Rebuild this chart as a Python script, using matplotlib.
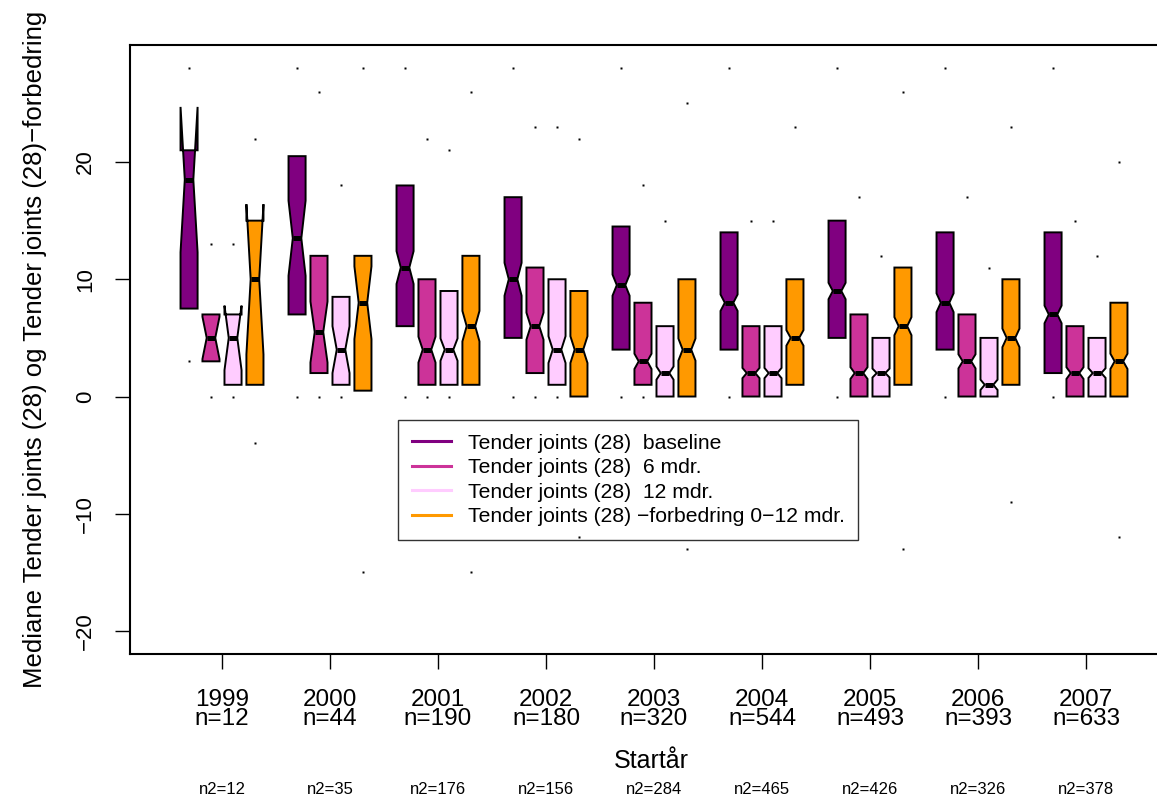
import matplotlib
matplotlib.use("Agg")
import matplotlib.pyplot as plt
from matplotlib.lines import Line2D
from matplotlib.transforms import blended_transform_factory

plt.rcParams['font.family'] = ['Liberation Sans', 'DejaVu Sans']

years = [1999, 2000, 2001, 2002, 2003, 2004, 2005, 2006, 2007]
n_vals = [12, 44, 190, 180, 320, 544, 493, 393, 633]
n2_vals = [12, 35, 176, 156, 284, 465, 426, 326, 378]

series_labels = ["Tender joints (28)  baseline",
                 "Tender joints (28)  6 mdr.",
                 "Tender joints (28)  12 mdr.",
                 "Tender joints (28) \u2212forbedring 0\u221212 mdr."]
series_colors = ["#800080", "#CC3399", "#FFCCFF", "#FF9900"]

# baseline
base_q1 = [7.5, 7, 6, 5, 4, 4, 5, 4, 2]
base_med = [18.5, 13.5, 11, 10, 9.5, 8, 9, 8, 7]
base_q3 = [21, 20.5, 18, 17, 14.5, 14, 15, 14, 14]
base_cilo = [12.3, 10.3, 9.6, 8.6, 8.6, 7.3, 8.3, 7.2, 6.25]
base_cihi = [24.7, 16.7, 12.4, 11.4, 10.4, 8.7, 9.7, 8.8, 7.75]
base_dots = [[28, 3], [28, 0], [28, 0], [28, 0], [28, 0], [28, 0], [28, 0], [28, 0], [28, 0]]

# 6 mdr
m6_q1 = [3, 2, 1, 2, 1, 0, 0, 0, 0]
m6_med = [5, 5.5, 4, 6, 3, 2, 2, 3, 2]
m6_q3 = [7, 12, 10, 11, 8, 6, 7, 7, 6]
m6_cilo = [3.2, 2.9, 2.9, 4.85, 2.35, 1.56, 1.5, 2.4, 1.5]
m6_cihi = [6.8, 8.1, 5.1, 7.15, 3.65, 2.44, 2.5, 3.6, 2.5]
m6_dots = [[13, 0], [26, 0], [22, 0], [23, 0], [18, 0], [15], [17], [17], [15]]

# 12 mdr
m12_q1 = [1, 1, 1, 1, 0, 0, 0, 0, 0]
m12_med = [5, 4, 4, 4, 2, 2, 2, 1, 2]
m12_q3 = [7, 8.5, 9, 10, 6, 6, 5, 5, 5]
m12_cilo = [2.25, 2.0, 3.05, 2.86, 1.44, 1.56, 1.62, 0.56, 1.59]
m12_cihi = [7.75, 6.0, 4.95, 5.14, 2.56, 2.44, 2.38, 1.44, 2.41]
m12_dots = [[13, 0], [18, 0], [21, 0], [23, 0], [15], [15], [12], [11], [12]]

# forbedring 0-12 mdr
fb_q1 = [1, 0.5, 1, 0, 0, 1, 1, 1, 0]
fb_med = [10, 8, 6, 4, 4, 5, 6, 5, 3]
fb_q3 = [15, 12, 12, 9, 10, 10, 11, 10, 8]
fb_cilo = [3.6, 4.9, 4.7, 2.86, 3.06, 4.34, 5.23, 4.21, 2.35]
fb_cihi = [16.4, 11.1, 7.3, 5.14, 4.94, 5.66, 6.77, 5.79, 3.65]
fb_dots = [[22, -4], [28, -15], [26, -15], [22, -12], [25, -13], [23], [26, -13], [23, -9], [20, -12]]

series = [
    (base_q1, base_med, base_q3, base_cilo, base_cihi, base_dots),
    (m6_q1, m6_med, m6_q3, m6_cilo, m6_cihi, m6_dots),
    (m12_q1, m12_med, m12_q3, m12_cilo, m12_cihi, m12_dots),
    (fb_q1, fb_med, fb_q3, fb_cilo, fb_cihi, fb_dots),
]
offsets = [-0.305, -0.102, 0.102, 0.305]
box_w = 0.158

fig = plt.figure(figsize=(11.57, 7.99), dpi=100)
W, H = 1157, 799
left_px, right_px, top_px, bot_px = 130, 1178, 45, 654
ax = fig.add_axes([left_px / W, 1 - bot_px / H, (right_px - left_px) / W, (bot_px - top_px) / H])

for si, (q1s, meds, q3s, cilos, cihis, dots) in enumerate(series):
    stats = []
    for gi in range(len(years)):
        stats.append(dict(med=meds[gi], q1=q1s[gi], q3=q3s[gi],
                          cilo=cilos[gi], cihi=cihis[gi],
                          whislo=q1s[gi], whishi=q3s[gi],
                          fliers=dots[gi]))
    pos = [gi + 1 + offsets[si] for gi in range(len(years))]
    ax.bxp(stats, positions=pos, widths=box_w, shownotches=True,
           patch_artist=True, showcaps=False, manage_ticks=False,
           boxprops=dict(facecolor=series_colors[si], edgecolor='black', linewidth=1.4),
           medianprops=dict(color='black', linewidth=3.6, solid_capstyle='butt'),
           whiskerprops=dict(linewidth=0),
           flierprops=dict(marker='s', markersize=1.7, markerfacecolor='black',
                           markeredgecolor='none', linestyle='none'))

ax.set_xlim(1 - 92 / 108, 9 + 92 / 108)
ax.set_ylim(-21.96, 29.98)

for s in ['left', 'bottom', 'top']:
    ax.spines[s].set_linewidth(1.5)
ax.spines['right'].set_visible(False)

ax.set_yticks([-20, -10, 0, 10, 20])
ax.set_yticklabels(['\u221220', '\u221210', '0', '10', '20'], fontsize=16, rotation=90, va='center')
ax.set_xticks(range(1, len(years) + 1))
ax.set_xticklabels([f"{y}\nn={n}" for y, n in zip(years, n_vals)], fontsize=17.5, linespacing=0.78)
ax.tick_params(axis='both', direction='out', length=10.5, width=1.0, color='black')
ax.tick_params(axis='x', pad=15)
ax.tick_params(axis='y', pad=14)

trans = blended_transform_factory(ax.transData, ax.transAxes)
for gi, n2 in enumerate(n2_vals):
    ax.text(gi + 1, (bot_px - 789) / (bot_px - top_px), f"n2={n2}", transform=trans,
            ha='center', va='center', fontsize=12)

ax.set_xlabel("Start\u00e5r", fontsize=18, va='center')
ax.xaxis.set_label_coords((651 - left_px) / (right_px - left_px), (bot_px - 761) / (bot_px - top_px))
ax.set_ylabel("Mediane Tender joints (28) og Tender joints (28)\u2212forbedring", fontsize=18.5, va='center')
ax.yaxis.set_label_coords((35 - left_px) / (right_px - left_px), 0.5)

handles = [Line2D([0], [0], color=c, linewidth=2.2) for c in series_colors]
leg = ax.legend(handles, series_labels, loc='upper left',
                bbox_to_anchor=(398 / W, 1 - 420 / H), bbox_transform=fig.transFigure,
                fontsize=15.2, frameon=True, fancybox=False, handlelength=1.85,
                handletextpad=0.8, labelspacing=0.26, borderpad=0.65, borderaxespad=0)
leg.get_frame().set_edgecolor('black')
leg.get_frame().set_linewidth(1.0)
leg.get_frame().set_facecolor('none')

fig.savefig("out.png", dpi=100)
